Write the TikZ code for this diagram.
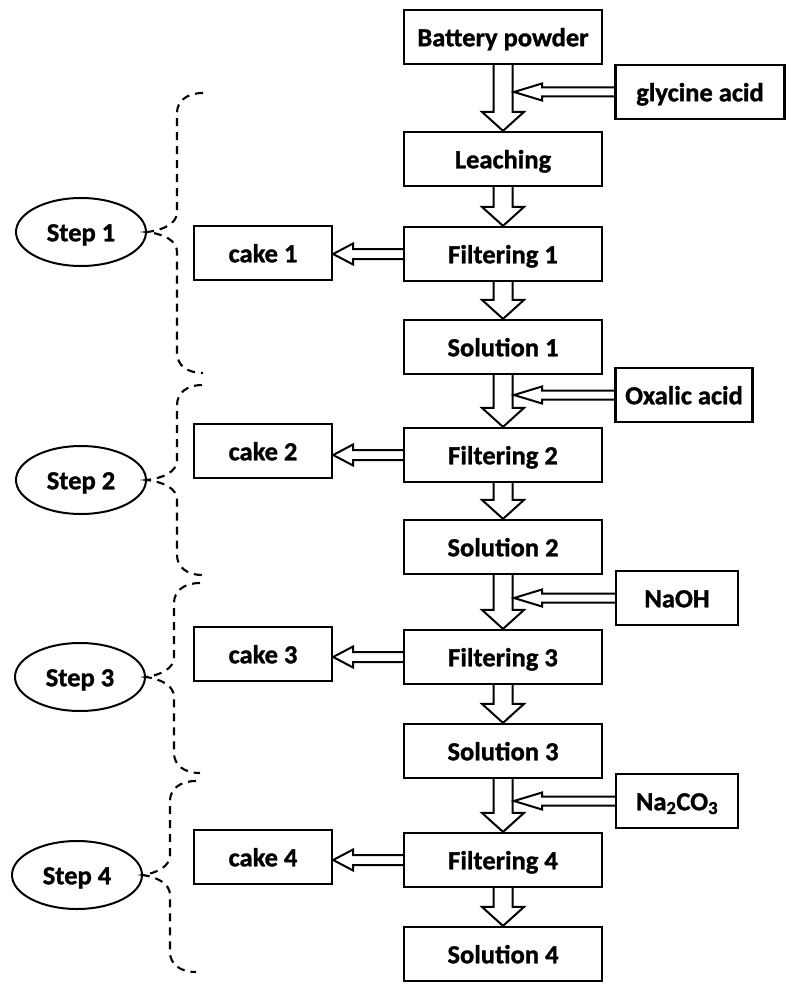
\documentclass[tikz,border=0pt]{standalone}
\usepackage{fontspec}
\setmainfont{Carlito}[FakeStretch=1.02,BoldFeatures={FakeBold=1.2}]
\usetikzlibrary{calc,shapes.geometric}
\newcommand{\bigdown}[2]{%
  \draw[hollow] ($(#1.south)+(-9.5,0)$) -- ($(#2.north)+(-9.5,-19)$) -- ($(#2.north)+(-21,-19)$)
    -- (#2.north) -- ($(#2.north)+(21,-19)$) -- ($(#2.north)+(9.5,-19)$) -- ($(#1.south)+(9.5,0)$);}
\newcommand{\sidein}[2]{%
  \coordinate (tip#1) at ($(#1.west -| #2.south)+(11,0)$);
  \draw[hollow] ($(#1.west)+(0,-4.5)$) -- ($(tip#1)+(28,-4.5)$) -- ($(tip#1)+(28,-8.5)$)
    -- (tip#1) -- ($(tip#1)+(28,8.5)$) -- ($(tip#1)+(28,4.5)$) -- ($(#1.west)+(0,4.5)$);}
\newcommand{\cakeout}[2]{%
  \coordinate (tip#2) at (#2.east |- #1.west);
  \draw[hollow] ($(#1.west)+(0,-5)$) -- ($(tip#2)+(20,-5)$) -- ($(tip#2)+(20,-10.5)$)
    -- (tip#2) -- ($(tip#2)+(20,10.5)$) -- ($(tip#2)+(20,5)$) -- ($(#1.west)+(0,5)$);}
\newcommand{\stepbrace}[6]{% #1 ellipse, #2 top y, #3 bottom y, #4 spine x, #5 end x, #6 tip y
  \coordinate (#1top) at (#5,#2);
  \coordinate (#1bot) at (#5,#3);
  \draw[bracestyle] (#1top) .. controls (#4+10,#2) and (#4,#2+8) .. (#4,#2+20)
    -- (#4,#6-20) .. controls (#4,#6-8) and (#4-14,#6-2) .. (#1.east)
    .. controls (#4-14,#6+2) and (#4,#6+8) .. (#4,#6+20)
    -- (#4,#3-20) .. controls (#4,#3-8) and (#4+10,#3) .. (#1bot);}
\begin{document}
\begin{tikzpicture}[x=1pt,y=-1pt,
  txt/.style={font=\fontsize{26}{31}\selectfont\bfseries},
  box/.style={txt,draw,line width=2.2pt,minimum height=54pt,inner sep=0pt,text height=20.5pt,text depth=2pt},
  mainbox/.style={box,minimum width=198pt},
  cakebox/.style={box,minimum width=138pt},
  stepell/.style={txt,ellipse,draw,line width=2pt,minimum width=130pt,minimum height=68pt,inner sep=0pt,text height=20.5pt,text depth=2pt},
  hollow/.style={line width=2pt,line join=miter},
  bracestyle/.style={line width=2.1pt,dash pattern=on 8pt off 6pt}]
\useasboundingbox (0,0) rectangle (794,987);
\fill[white] (0,0) rectangle (794,987);
\node[mainbox] (bp) at (503,37) {Battery powder};
\node[box,minimum width=169pt] (gly) at (700,92) {glycine acid};
\node[mainbox] (leach) at (503,159) {Leaching};
\node[mainbox] (f1) at (503,254) {Filtering 1};
\node[cakebox] (c1) at (263,253) {cake 1};
\node[mainbox] (s1) at (503,347) {Solution 1};
\node[box,minimum width=137pt] (ox) at (684,395) {Oxalic acid};
\node[mainbox] (f2) at (503,455) {Filtering 2};
\node[cakebox] (c2) at (263,451) {cake 2};
\node[mainbox] (s2) at (503,547) {Solution 2};
\node[box,minimum width=122pt] (naoh) at (677,598) {NaOH};
\node[mainbox] (f3) at (503,657) {Filtering 3};
\node[cakebox] (c3) at (263,654) {cake 3};
\node[mainbox] (s3) at (503,751) {Solution 3};
\node[box,minimum width=122pt] (na) at (677,801) {Na\textsubscript{2}CO\textsubscript{3}};
\node[mainbox] (f4) at (503,860) {Filtering 4};
\node[cakebox] (c4) at (263,857) {cake 4};
\node[mainbox] (s4) at (503,954) {Solution 4};
\node[stepell] (S1) at (81,232) {Step 1};
\node[stepell] (S2) at (81,480) {Step 2};
\node[stepell] (S3) at (80,677) {Step 3};
\node[stepell] (S4) at (77,875) {Step 4};
\bigdown{bp}{leach}
\bigdown{leach}{f1}
\bigdown{f1}{s1}
\bigdown{s1}{f2}
\bigdown{f2}{s2}
\bigdown{s2}{f3}
\bigdown{f3}{s3}
\bigdown{s3}{f4}
\bigdown{f4}{s4}
\sidein{gly}{bp}
\sidein{ox}{s1}
\sidein{naoh}{s2}
\sidein{na}{s3}
\cakeout{f1}{c1}
\cakeout{f2}{c2}
\cakeout{f3}{c3}
\cakeout{f4}{c4}
\stepbrace{S1}{93}{373}{177}{203}{232}
\stepbrace{S2}{385}{575}{177}{202}{480}
\stepbrace{S3}{583}{773}{174}{200}{677}
\stepbrace{S4}{781}{972}{170}{196}{875}
\end{tikzpicture}
\end{document}
